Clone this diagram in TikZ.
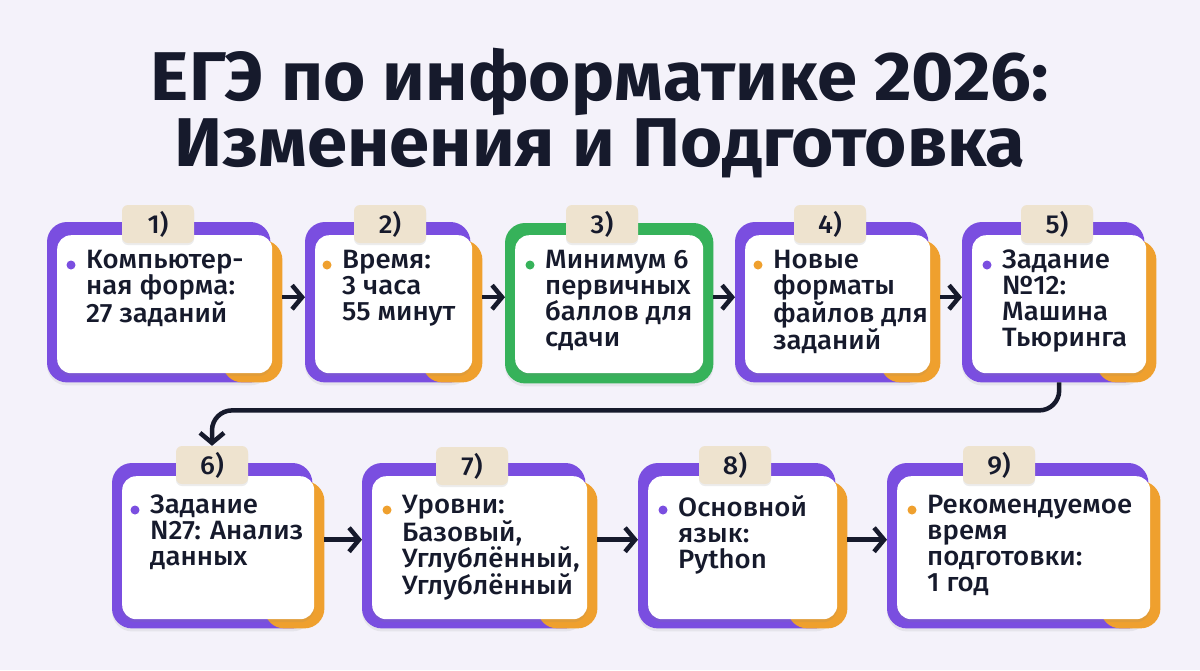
\documentclass[tikz,border=0pt]{standalone}
\usepackage{fontspec}
\setmainfont{Fira Sans}[UprightFont=* Medium, BoldFont=* Bold, FakeStretch=1.04]
\newfontfamily\titlefont{Fira Sans}[UprightFont=* Bold, FakeStretch=1.05]
\usetikzlibrary{arrows.meta,positioning,shadows}
\definecolor{bgcol}{HTML}{F4F2FA}
\definecolor{purp}{HTML}{7A4EE0}
\definecolor{oran}{HTML}{EFA02E}
\definecolor{gree}{HTML}{36B25A}
\definecolor{badgecol}{HTML}{EEE3CF}
\definecolor{ink}{HTML}{161A2C}
\pgfdeclarelayer{back}
\pgfsetlayers{back,main}
\tikzset{
  card/.style={fill=white, rounded corners=14pt, inner sep=0pt, anchor=north west,
    drop shadow={opacity=0.12, shadow xshift=0pt, shadow yshift=-3pt}},
  badge/.style={fill=badgecol, rounded corners=6pt, minimum width=72pt, minimum height=38pt,
    inner sep=0pt, text=ink, font=\fontsize{26}{26}\selectfont,
    drop shadow={opacity=0.15, shadow xshift=0pt, shadow yshift=-2pt}},
  txt/.style={inner sep=0pt, align=left, text=ink, font=\fontsize{26.5}{26}\selectfont,
    execute at begin node=\rule{0pt}{25pt}},
  arr/.style={draw=ink, line width=4.5pt, -{Straight Barb[length=10pt,width=24pt]}},
  frame/.style={rounded corners=20pt, drop shadow={opacity=0.12, shadow xshift=0pt, shadow yshift=-3pt}}
}
\begin{document}
\begin{tikzpicture}[x=1pt, y=-1pt]
  \node[font=\titlefont\fontsize{69}{66}\selectfont, text=ink, align=center, anchor=north] (title) at (600,43)
    {\rule{0pt}{54pt}ЕГЭ по информатике 2026:\\Изменения и Подготовка};

  \node[card, minimum width=215pt, minimum height=138pt] (c1) at (57,235) {};
  \node[card, minimum width=157pt, minimum height=138pt] (c2) at (315,235) {};
  \node[card, minimum width=188pt, minimum height=138pt] (c3) at (515,235) {};
  \node[card, minimum width=185pt, minimum height=138pt] (c4) at (745,235) {};
  \node[card, minimum width=174pt, minimum height=138pt] (c5) at (972,235) {};
  \node[card, minimum width=192pt, minimum height=143pt] (c6) at (122,476) {};
  \node[card, minimum width=215pt, minimum height=143pt] (c7) at (372,476) {};
  \node[card, minimum width=189pt, minimum height=143pt] (c8) at (648,476) {};
  \node[card, minimum width=253pt, minimum height=143pt] (c9) at (897,476) {};

  \begin{pgfonlayer}{back}
    \fill[bgcol] (0,0) rectangle (1200,670);
    \foreach \c in {1,2,4,5,6,7,8,9}{
      \fill[purp, frame] ([shift={(-10,-13)}]c\c.north west) rectangle ([shift={(-2,9)}]c\c.south east);
      \fill[oran, rounded corners=20pt] ([shift={(-50,5)}]c\c.north east) rectangle ([shift={(10,9)}]c\c.south east);
    }
    \fill[gree, frame] ([shift={(-10,-12)}]c3.north west) rectangle ([shift={(10,10)}]c3.south east);
  \end{pgfonlayer}

  \node[txt, below right=15pt and 29pt of c1.north west] (t1) {Компьютер-\\ная форма:\\27 заданий};
  \node[txt, below right=15pt and 27pt of c2.north west] (t2) {Время:\\3 часа\\55 минут};
  \node[txt, below right=15pt and 30pt of c3.north west] (t3) {Минимум 6\\первичных\\баллов для\\сдачи};
  \node[txt, below right=15pt and 28pt of c4.north west] (t4) {Новые\\форматы\\файлов для\\заданий};
  \node[txt, below right=15pt and 30pt of c5.north west] (t5) {Задание\\№12:\\Машина\\Тьюринга};
  \node[txt, below right=19pt and 28pt of c6.north west] (t6) {Задание\\N27: Анализ\\данных};
  \node[txt, below right=19pt and 30pt of c7.north west] (t7) {Уровни:\\Базовый,\\Углублённый,\\Углублённый};
  \node[txt, below right=19pt and 30pt of c8.north west] (t8) {Основной\\язык:\\Python};
  \node[txt, below right=19pt and 30pt of c9.north west] (t9) {Рекомендуемое\\время\\подготовки:\\1 год};

  \foreach \t/\col in {1/purp,2/oran,3/gree,4/oran,5/purp,6/purp,7/oran,8/purp,9/oran}
    \fill[\col] ([shift={(-15,15)}]t\t.north west) circle (4.5);

  \node[badge] (b1) at (158,224) {1)};
  \node[badge] (b2) at (390,224) {2)};
  \node[badge] (b3) at (602,224) {3)};
  \node[badge] (b4) at (830,224) {4)};
  \node[badge] (b5) at (1057,224) {5)};
  \node[badge] (b6) at (212,465) {6)};
  \node[badge] (b7) at (472,466) {7)};
  \node[badge] (b8) at (735,465) {8)};
  \node[badge] (b9) at (999,465) {9)};

  \draw[arr] ([shift={(10,-7)}]c1.east) -- ([shift={(-10,-7)}]c2.west);
  \draw[arr] ([shift={(10,-7)}]c2.east) -- ([shift={(-10,-7)}]c3.west);
  \draw[arr] ([shift={(10,-7)}]c3.east) -- ([shift={(-10,-7)}]c4.west);
  \draw[arr] ([shift={(10,-7)}]c4.east) -- ([shift={(-10,-7)}]c5.west);
  \draw[arr, rounded corners=20pt] ([shift={(0,9)}]c5.south) -- ++(0,28) -| (b6.north);
  \draw[arr] ([shift={(10,-8)}]c6.east) -- ([shift={(-10,-8)}]c7.west);
  \draw[arr] ([shift={(10,-8)}]c7.east) -- ([shift={(-10,-8)}]c8.west);
  \draw[arr] ([shift={(10,-8)}]c8.east) -- ([shift={(-10,-8)}]c9.west);
\end{tikzpicture}
\end{document}
